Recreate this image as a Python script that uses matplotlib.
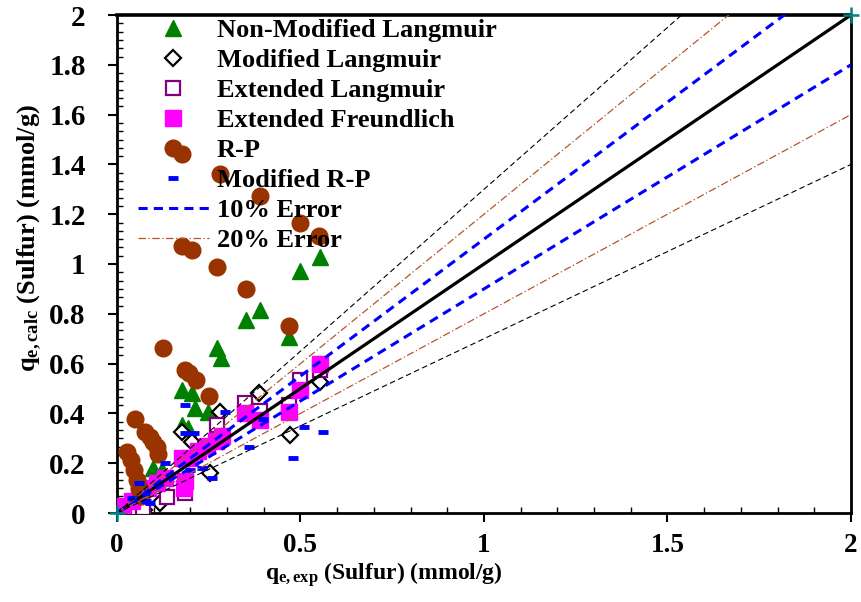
import matplotlib
matplotlib.use("Agg")
import matplotlib.pyplot as plt
from matplotlib.ticker import MultipleLocator
import numpy as np

plt.rcParams['font.family'] = ['Liberation Serif', 'DejaVu Serif']
plt.rcParams['font.weight'] = 'bold'
plt.rcParams['mathtext.fontset'] = 'custom'
plt.rcParams['mathtext.rm'] = 'Liberation Serif:bold'
plt.rcParams['mathtext.bf'] = 'Liberation Serif:bold'
plt.rcParams['mathtext.it'] = 'Liberation Serif:bold'

# Non-Modified Langmuir
nml_x = [0.098, 0.122, 0.177, 0.193, 0.177, 0.204, 0.212, 0.248, 0.272, 0.283, 0.351, 0.389, 0.468, 0.498, 0.552, 0.05]
nml_y = [0.180, 0.172, 0.353, 0.341, 0.493, 0.481, 0.421, 0.405, 0.661, 0.621, 0.774, 0.814, 0.706, 0.970, 1.028, 0.06]
# Modified Langmuir
ml_x = [0.073, 0.117, 0.177, 0.204, 0.253, 0.280, 0.386, 0.471, 0.498, 0.552]
ml_y = [0.012, 0.040, 0.325, 0.285, 0.160, 0.405, 0.481, 0.313, 0.525, 0.525]
# Extended Langmuir
el_x = [0.035, 0.071, 0.136, 0.185, 0.272, 0.348, 0.389, 0.468, 0.498, 0.552]
el_y = [0.012, 0.020, 0.064, 0.080, 0.353, 0.441, 0.410, 0.433, 0.533, 0.573]
# Extended Freundlich
ef_x = [0.015, 0.040, 0.060, 0.085, 0.110, 0.130, 0.177, 0.200, 0.220, 0.245, 0.270, 0.285, 0.185, 0.183, 0.348, 0.389, 0.468, 0.498, 0.552]
ef_y = [0.030, 0.050, 0.070, 0.100, 0.120, 0.140, 0.220, 0.220, 0.250, 0.270, 0.290, 0.310, 0.130, 0.100, 0.400, 0.373, 0.405, 0.493, 0.600]
# R-P
rp_x = [0.177, 0.280, 0.389, 0.498, 0.550, 0.177, 0.204, 0.272, 0.351, 0.468, 0.125, 0.185, 0.196, 0.215, 0.250,
        0.049, 0.076, 0.090, 0.098, 0.109, 0.112, 0.027, 0.038, 0.046, 0.054, 0.060, 0.065]
rp_y = [1.443, 1.363, 1.275, 1.166, 1.114, 1.074, 1.056, 0.986, 0.898, 0.750, 0.661, 0.573, 0.561, 0.533, 0.469,
        0.377, 0.325, 0.305, 0.285, 0.265, 0.236, 0.245, 0.212, 0.172, 0.132, 0.100, 0.070]
# Modified R-P
mrp_x = [0.040, 0.060, 0.075, 0.080, 0.090, 0.131, 0.185, 0.185, 0.210, 0.199, 0.231, 0.258, 0.294, 0.359, 0.397, 0.479, 0.509, 0.561]
mrp_y = [0.060, 0.120, 0.080, 0.050, 0.040, 0.200, 0.433, 0.321, 0.320, 0.172, 0.180, 0.140, 0.405, 0.265, 0.377, 0.220, 0.345, 0.325]

# reference lines (slope multipliers)
ref_x = [0.0, 2.0]
slope_10 = [1.1, 0.9]
slope_20 = [1.2, 0.8]
slope_30 = [1.3, 0.7]

fig = plt.figure(figsize=(8.62, 6.02), dpi=100)
ax = fig.add_axes([117/862, 1-513/602, (851-117)/862, (513-15)/602])

ax.plot(nml_x, nml_y, ls='none', marker='^', ms=11, color='#008000', mec='#008000',
        label='Non-Modified Langmuir', zorder=3)
ax.plot(ml_x, ml_y, ls='none', marker='D', ms=8, mfc='white', mec='black', mew=1.6,
        label='Modified Langmuir', zorder=3)
ax.plot(el_x, el_y, ls='none', marker='s', ms=10, mfc='white', mec='#800080', mew=1.6,
        label='Extended Langmuir', zorder=3)
ax.plot(ef_x, ef_y, ls='none', marker='s', ms=11, color='#FF00FF', mec='#FF00FF',
        label='Extended Freundlich', zorder=3)
ax.plot(rp_x, rp_y, ls='none', marker='o', ms=12, color='#993300', mec='#993300',
        label='R-P', zorder=3)
ax.plot(mrp_x, mrp_y, ls='none', marker='_', ms=7, mew=3.5, color='#0000FF',
        label='Modified R-P', zorder=3)

xs = np.array(ref_x)
ax.plot(xs, xs, color='black', lw=2.3, zorder=4)
for i, s in enumerate(slope_10):
    ax.plot(xs, s * xs, color='#0000FF', lw=2.2, ls=(0, (3, 2)), zorder=4,
            label='10% Error' if i == 0 else None)
for i, s in enumerate(slope_20):
    ax.plot(xs, s * xs, color='#B5552B', lw=0.9, ls=(0, (6, 2, 1, 2)), zorder=4,
            label='20% Error' if i == 0 else None)
for s in slope_30:
    ax.plot(xs, s * xs, color='black', lw=0.8, ls=(0, (5, 3)), zorder=4)

ax.plot([0, 2], [0, 2], ls='none', marker='+', ms=12, mew=1.8, color='#008080',
        clip_on=False, zorder=5)

ax.set_xlim(0, 2)
ax.set_ylim(0, 2)
ax.xaxis.set_major_locator(MultipleLocator(0.5))
ax.xaxis.set_minor_locator(MultipleLocator(0.1))
ax.yaxis.set_major_locator(MultipleLocator(0.2))
ax.yaxis.set_minor_locator(MultipleLocator(0.2/6))
ax.xaxis.set_major_formatter(plt.FuncFormatter(lambda v, p: ('%g' % v)))
ax.yaxis.set_major_formatter(plt.FuncFormatter(lambda v, p: ('%g' % round(v, 2))))
ax.tick_params(which='major', direction='out', length=6.5, width=1.5)
ax.tick_params(which='minor', direction='in', length=4, width=1.0)
ax.tick_params(axis='y', which='major', labelsize=21, pad=16)
ax.tick_params(axis='x', which='major', labelsize=19.5, pad=8)
for sp in ['left', 'bottom', 'right']:
    ax.spines[sp].set_linewidth(2.0)
ax.spines['top'].set_linewidth(2.6)

ax.set_xlabel(r'$\mathbf{q_{e,exp}}$ (Sulfur) (mmol/g)', fontsize=17, fontweight='bold')
ax.set_ylabel(r'$\mathbf{q_{e,calc}}$ (Sulfur) (mmol/g)', fontsize=19, fontweight='bold')
ax.xaxis.set_label_coords(0.364, -0.094)
ax.yaxis.set_label_coords(-0.100, 0.552)

leg = ax.legend(loc='upper left', bbox_to_anchor=(0.028, 0.993), frameon=False,
                fontsize=19, handlelength=2.7, handletextpad=0.3, labelspacing=0.25,
                borderpad=0, borderaxespad=0, numpoints=1)

fig.savefig('out.png', dpi=100)
